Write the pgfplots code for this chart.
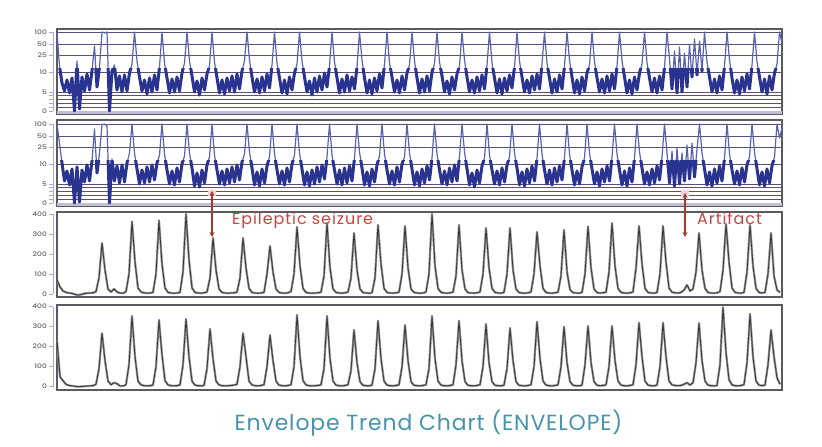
\documentclass[border=0pt]{standalone}
\usepackage{pgfplots}
\pgfplotsset{compat=1.18}
\usepackage{pgfplotstable}
\usetikzlibrary{arrows.meta}
\usepackage{fontspec}
\setmainfont{Poppins}
\definecolor{bluedark}{HTML}{2A3490}
\definecolor{bluemid}{HTML}{5A63AE}
\definecolor{gridp}{HTML}{5E4E7A}
\definecolor{lav}{HTML}{C4BDD6}
\definecolor{frameg}{HTML}{5A5A62}
\definecolor{envdark}{HTML}{333333}
\definecolor{envlight}{HTML}{8E8E8E}
\definecolor{axisp}{HTML}{B0A8D2}
\definecolor{labelc}{HTML}{404040}
\definecolor{arrowred}{HTML}{A33A2A}
\definecolor{textred}{HTML}{C8463E}
\definecolor{titleteal}{HTML}{4793AB}
\definecolor{pinkhl}{HTML}{F6CFE0}

% aEEG channel 1 (display units: 0->0, 5->19, 10->39, 25->55.5, 50->67, 100->79), 2.5 px per sample
\pgfplotstableread[header=false,row sep=\\]{
79\\45\\28\\20\\31\\18\\33\\0\\50\\2\\34\\20\\37\\21\\40\\65\\24\\44\\79\\78\\79\\0\\40\\46\\21\\35\\19\\36\\20\\38\\47\\
79\\50\\34\\20\\31\\17\\33\\19\\36\\21\\44\\79\\48\\33\\18\\32\\19\\34\\20\\38\\48\\79\\50\\35\\19\\30\\16\\33\\21\\37\\45\\
79\\49\\33\\18\\31\\17\\33\\20\\35\\19\\37\\22\\40\\50\\79\\51\\34\\19\\32\\18\\34\\20\\37\\23\\46\\79\\48\\33\\18\\31\\17\\34\\21\\38\\47\\
79\\50\\34\\19\\30\\16\\33\\19\\35\\21\\38\\24\\45\\79\\49\\33\\18\\32\\19\\36\\20\\34\\22\\44\\79\\51\\33\\18\\31\\17\\33\\20\\37\\23\\47\\
79\\48\\34\\19\\31\\18\\35\\21\\38\\46\\79\\50\\33\\18\\32\\19\\35\\20\\39\\47\\79\\49\\35\\19\\30\\17\\34\\21\\37\\45\\
79\\51\\34\\19\\31\\18\\34\\20\\36\\22\\46\\79\\48\\33\\18\\32\\17\\33\\20\\36\\23\\44\\79\\50\\34\\19\\31\\18\\35\\21\\37\\22\\47\\
79\\48\\33\\18\\32\\19\\36\\22\\45\\79\\51\\34\\18\\31\\17\\34\\20\\38\\46\\79\\49\\33\\19\\32\\18\\35\\20\\37\\22\\45\\
79\\50\\34\\18\\31\\17\\34\\21\\38\\47\\79\\48\\33\\19\\33\\18\\35\\21\\44\\
79\\52\\22\\60\\18\\64\\19\\58\\24\\66\\34\\72\\36\\70\\40\\
79\\49\\34\\19\\32\\18\\35\\21\\45\\79\\51\\33\\18\\31\\17\\34\\20\\37\\22\\46\\79\\49\\34\\19\\32\\17\\35\\21\\38\\47\\79\\68\\
}\Pone

% aEEG channel 2
\pgfplotstableread[header=false,row sep=\\]{
79\\60\\40\\22\\32\\18\\34\\0\\36\\1\\33\\21\\38\\22\\42\\74\\30\\50\\78\\79\\77\\0\\44\\22\\37\\20\\38\\21\\40\\50\\
79\\50\\34\\19\\33\\20\\36\\21\\38\\23\\40\\48\\79\\49\\33\\19\\32\\18\\35\\21\\39\\47\\79\\50\\35\\17\\30\\16\\33\\20\\38\\46\\
79\\48\\33\\19\\32\\18\\34\\20\\36\\21\\38\\23\\41\\49\\79\\51\\35\\18\\31\\17\\34\\20\\37\\46\\79\\49\\33\\19\\32\\18\\35\\21\\39\\48\\
79\\50\\34\\18\\31\\17\\33\\19\\36\\21\\38\\24\\46\\79\\48\\33\\19\\33\\18\\35\\20\\37\\22\\45\\79\\51\\35\\18\\31\\17\\34\\21\\38\\47\\
79\\49\\33\\19\\32\\18\\36\\21\\39\\46\\79\\50\\34\\18\\31\\17\\34\\20\\37\\23\\45\\79\\49\\33\\19\\32\\18\\35\\21\\38\\22\\47\\
79\\51\\34\\18\\30\\16\\33\\20\\37\\45\\79\\48\\33\\19\\32\\18\\35\\21\\38\\46\\79\\50\\35\\18\\31\\17\\34\\20\\37\\22\\45\\
79\\49\\33\\19\\33\\18\\35\\21\\37\\23\\46\\79\\49\\33\\18\\32\\19\\36\\45\\79\\50\\34\\19\\31\\17\\34\\21\\37\\22\\46\\
79\\49\\33\\18\\32\\17\\35\\21\\45\\79\\51\\35\\19\\31\\18\\34\\20\\37\\23\\46\\
79\\50\\20\\52\\17\\55\\19\\50\\22\\58\\24\\60\\26\\54\\
79\\50\\34\\18\\31\\17\\34\\20\\37\\22\\45\\79\\49\\33\\19\\32\\18\\35\\21\\38\\46\\79\\51\\34\\18\\31\\17\\34\\20\\37\\46\\79\\65\\75\\
}\Ptwo

% Envelope channel 1, 3 px per sample
\pgfplotstableread[header=false,row sep=\\]{
70\\35\\15\\8\\5\\3\\-2\\-5\\-3\\2\\4\\5\\6\\12\\80\\255\\120\\25\\10\\25\\10\\5\\4\\12\\100\\362\\160\\30\\10\\6\\
4\\5\\8\\100\\367\\150\\30\\8\\5\\4\\5\\8\\110\\400\\170\\30\\8\\5\\4\\6\\10\\80\\280\\120\\25\\8\\5\\4\\5\\6\\
9\\80\\280\\130\\28\\8\\5\\4\\5\\8\\100\\240\\110\\25\\8\\5\\4\\6\\12\\100\\335\\140\\28\\8\\5\\4\\5\\6\\9\\90\\
355\\130\\25\\8\\5\\4\\6\\10\\80\\305\\120\\25\\7\\5\\4\\6\\80\\345\\150\\28\\8\\5\\4\\6\\9\\100\\340\\130\\25\\8\\
5\\4\\5\\10\\100\\400\\140\\28\\8\\5\\4\\6\\9\\90\\345\\120\\25\\7\\5\\4\\6\\10\\100\\330\\130\\28\\8\\5\\4\\8\\
100\\330\\120\\25\\7\\5\\4\\6\\10\\100\\310\\140\\28\\8\\5\\4\\6\\9\\90\\320\\110\\22\\7\\5\\4\\8\\100\\337\\130\\25\\
7\\5\\6\\9\\110\\355\\140\\28\\8\\5\\4\\6\\10\\130\\340\\150\\28\\8\\5\\4\\8\\100\\340\\160\\30\\9\\6\\5\\8\\20\\
45\\15\\25\\110\\305\\120\\28\\8\\5\\4\\6\\12\\120\\350\\160\\30\\8\\5\\4\\8\\110\\345\\140\\28\\8\\5\\8\\100\\305\\90\\
20\\8\\
}\Pthree

% Envelope channel 2
\pgfplotstableread[header=false,row sep=\\]{
230\\50\\30\\12\\6\\4\\2\\0\\1\\2\\3\\4\\5\\12\\90\\267\\130\\28\\10\\20\\15\\4\\3\\10\\110\\353\\150\\28\\9\\5\\
4\\5\\8\\100\\333\\160\\30\\9\\5\\4\\5\\9\\110\\338\\150\\28\\8\\5\\4\\6\\90\\288\\140\\28\\9\\5\\4\\5\\6\\8\\
12\\100\\267\\150\\28\\9\\5\\4\\6\\10\\100\\258\\130\\28\\8\\5\\4\\6\\10\\100\\358\\150\\30\\9\\5\\4\\5\\6\\9\\90\\
353\\140\\28\\8\\5\\4\\6\\10\\80\\283\\120\\25\\7\\5\\4\\8\\90\\330\\140\\28\\8\\5\\4\\6\\9\\100\\308\\130\\25\\7\\
5\\4\\6\\10\\90\\353\\140\\28\\8\\5\\4\\6\\9\\110\\330\\130\\25\\7\\5\\4\\6\\10\\100\\313\\120\\25\\7\\5\\4\\8\\
90\\293\\130\\25\\7\\5\\4\\6\\10\\100\\325\\140\\28\\8\\5\\4\\6\\9\\100\\300\\120\\25\\7\\5\\4\\8\\110\\303\\120\\25\\
7\\5\\6\\9\\100\\303\\130\\28\\8\\5\\4\\6\\10\\110\\320\\150\\28\\8\\5\\4\\8\\100\\320\\150\\28\\9\\6\\5\\6\\12\\
20\\8\\20\\120\\318\\130\\28\\8\\5\\4\\6\\110\\397\\170\\35\\9\\5\\4\\6\\10\\120\\363\\150\\28\\8\\5\\8\\110\\283\\150\\
45\\12\\
}\Pfour

\pgfplotsset{
  panel/.style={scale only axis, width=725bp, anchor=south west,
    xmin=0, xtick=\empty, axis line style={color=frameg, line width=1.2bp}, clip=true},
  bluep/.style={panel, xmax=290,
    ytick={0,3.8,7.6,11.4,15.2,19,39,55.5,67,79}, yticklabels={,,,,,,,,,}, major tick length=0pt,
    ymajorgrids, major grid style={color=gridp, line width=0.6bp}},
  envp/.style={panel, height=85bp, xmax=241.667, ytick=\empty},
  tickax/.style={scale only axis, width=5bp, anchor=south west, xmin=0, xmax=1,
    axis y line*=left, axis x line=none, xtick=\empty,
    y axis line style={color=axisp, line width=0.9bp},
    tick align=outside, major tick length=4bp, tick pos=left,
    tick style={color=axisp, line width=0.9bp},
    yticklabel style={font=\fontsize{6.2}{7}\selectfont, text=labelc, xscale=1.25, inner sep=1.5bp}},
  bluetick/.style={tickax, height=79bp, ymin=0, ymax=79,
    ytick={0,3.8,7.6,11.4,15.2,19,39,55.5,67,79}, yticklabels={0,,,,,5,10,25,50,100}},
  envtick/.style={tickax, height=80bp, ymin=0, ymax=400,
    ytick={0,100,200,300,400}, yticklabels={0,100,200,300,400}},
  bm/.style={bluemid, line width=1.2bp, line join=round},
  bd/.style={bluedark, line width=3.0bp, line join=round},
  el/.style={envlight, line width=2.2bp, line join=round},
  ed/.style={envdark, line width=0.7bp, line join=round},
}

\begin{document}
\begin{tikzpicture}[x=1bp,y=1bp]
\path[use as bounding box] (0,0) rectangle (822,447);

% panel 1
\begin{axis}[bluep, at={(57bp,333bp)}, height=85bp, ymin=-3, ymax=82]
\fill[lav] (axis cs:0,-3) rectangle (axis cs:290,-0.3);
\addplot[bm] table[x expr=\coordindex, y index=0]{\Pone};
\begin{scope}
\clip (axis cs:0,-3) rectangle (axis cs:290,42);
\addplot[bd] table[x expr=\coordindex, y index=0]{\Pone};
\end{scope}
\end{axis}
\begin{axis}[bluetick, at={(53bp,336bp)}]\end{axis}

% panel 2
\begin{axis}[bluep, at={(57bp,241bp)}, height=86bp, ymin=-3, ymax=83]
\fill[lav] (axis cs:0,-3) rectangle (axis cs:290,-0.3);
\addplot[bm] table[x expr=\coordindex, y index=0]{\Ptwo};
\begin{scope}
\clip (axis cs:0,-3) rectangle (axis cs:290,42);
\addplot[bd] table[x expr=\coordindex, y index=0]{\Ptwo};
\end{scope}
\end{axis}
\begin{axis}[bluetick, at={(53bp,244bp)}]\end{axis}

% panel 3
\begin{axis}[envp, at={(57bp,150bp)}, ymin=-15, ymax=410]
\addplot[el] table[x expr=\coordindex, y index=0]{\Pthree};
\addplot[ed] table[x expr=\coordindex, y index=0]{\Pthree};
\end{axis}
\begin{axis}[envtick, at={(53bp,153bp)}]\end{axis}

% panel 4
\begin{axis}[envp, at={(57bp,57bp)}, ymin=-16.5, ymax=408.5]
\addplot[el] table[x expr=\coordindex, y index=0]{\Pfour};
\addplot[ed] table[x expr=\coordindex, y index=0]{\Pfour};
\end{axis}
\begin{axis}[envtick, at={(53bp,60.3bp)}]\end{axis}

% annotations
\fill[pinkhl] (208,251) rectangle (216,257);
\fill[pinkhl] (681,251) rectangle (689,257);
\draw[arrowred, line width=1.3bp, {Stealth[length=5bp,width=5bp]}-{Stealth[length=5bp,width=5bp]}] (212,256) -- (212,210);
\draw[arrowred, line width=1.3bp, {Stealth[length=5bp,width=5bp]}-{Stealth[length=5bp,width=5bp]}] (685,254) -- (685,210);
\node[anchor=base west, text=textred, font=\fontsize{16}{18}\selectfont\addfontfeatures{LetterSpace=6}, inner sep=0pt] at (232,222) {Epileptic seizure};
\node[anchor=base west, text=textred, font=\fontsize{16}{18}\selectfont\addfontfeatures{LetterSpace=6}, inner sep=0pt] at (697,222) {Artifact};
\node[anchor=base, text=titleteal, font=\fontsize{22}{26}\selectfont\addfontfeatures{LetterSpace=4}, inner sep=0pt] at (428.5,16) {Envelope Trend Chart (ENVELOPE)};
\end{tikzpicture}
\end{document}
